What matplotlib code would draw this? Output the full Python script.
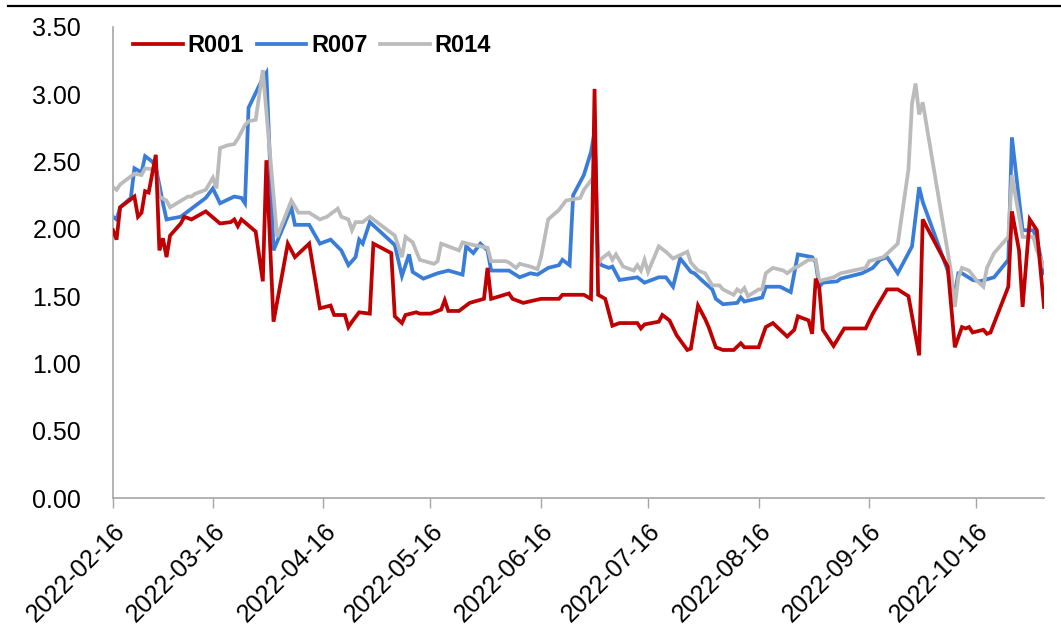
import matplotlib
matplotlib.use("Agg")
import matplotlib.pyplot as plt
import matplotlib.dates as mdates
from matplotlib.lines import Line2D
import pandas as pd

# ---------------- data ----------------
r001_dates = ["2022-02-16","2022-02-17","2022-02-18","2022-02-22","2022-02-23","2022-02-24","2022-02-25",
    "2022-02-26","2022-02-27","2022-02-28","2022-03-01","2022-03-02","2022-03-03","2022-03-04","2022-03-07",
    "2022-03-08","2022-03-10","2022-03-14","2022-03-18","2022-03-21","2022-03-22","2022-03-23","2022-03-24",
    "2022-03-28","2022-03-30","2022-03-31","2022-04-02","2022-04-06","2022-04-08","2022-04-12","2022-04-15",
    "2022-04-18","2022-04-19","2022-04-22","2022-04-23","2022-04-24","2022-04-26","2022-04-29","2022-04-30",
    "2022-05-05","2022-05-06","2022-05-08","2022-05-09","2022-05-12","2022-05-13","2022-05-16","2022-05-19",
    "2022-05-20","2022-05-21","2022-05-24","2022-05-26","2022-05-27","2022-05-31","2022-06-01","2022-06-02",
    "2022-06-07","2022-06-08","2022-06-11","2022-06-16","2022-06-21","2022-06-22","2022-06-28","2022-06-30",
    "2022-07-01","2022-07-02","2022-07-04","2022-07-06","2022-07-08","2022-07-13","2022-07-14","2022-07-15",
    "2022-07-19","2022-07-20","2022-07-22","2022-07-24","2022-07-27","2022-07-28","2022-07-30","2022-08-01",
    "2022-08-02","2022-08-04","2022-08-06","2022-08-09","2022-08-11","2022-08-12","2022-08-16","2022-08-18",
    "2022-08-20","2022-08-24","2022-08-26","2022-08-27","2022-08-30","2022-08-31","2022-09-01","2022-09-02",
    "2022-09-03","2022-09-06","2022-09-09","2022-09-15","2022-09-17","2022-09-21","2022-09-24","2022-09-27",
    "2022-09-30","2022-10-01","2022-10-08","2022-10-10","2022-10-12","2022-10-13","2022-10-14","2022-10-15",
    "2022-10-18","2022-10-19","2022-10-20","2022-10-25","2022-10-26","2022-10-28","2022-10-29","2022-10-31",
    "2022-11-02","2022-11-04"]
r001_values = [1.99,1.92,2.16,2.24,2.09,2.12,2.28,
    2.27,2.41,2.55,1.84,1.93,1.79,1.95,2.04,
    2.09,2.07,2.13,2.04,2.05,2.07,2.02,2.07,
    1.98,1.61,2.51,1.31,1.89,1.79,1.89,1.41,
    1.43,1.36,1.36,1.27,1.31,1.38,1.37,1.89,
    1.82,1.35,1.30,1.36,1.38,1.37,1.37,1.40,
    1.47,1.39,1.39,1.43,1.45,1.48,1.71,1.48,
    1.52,1.48,1.45,1.48,1.48,1.51,1.51,1.48,
    3.04,1.51,1.48,1.28,1.30,1.30,1.26,1.29,
    1.31,1.36,1.32,1.21,1.10,1.11,1.43,1.33,
    1.27,1.12,1.10,1.10,1.15,1.12,1.12,1.27,
    1.30,1.20,1.25,1.35,1.32,1.22,1.63,1.56,
    1.25,1.13,1.26,1.26,1.37,1.55,1.55,1.50,
    1.06,2.07,1.72,1.12,1.27,1.26,1.27,1.23,
    1.25,1.22,1.23,1.57,2.13,1.84,1.42,2.07,
    1.99,1.42]

r007_dates = ["2022-02-16","2022-02-17","2022-02-18","2022-02-21","2022-02-22","2022-02-24","2022-02-25",
    "2022-02-27","2022-02-28","2022-03-02","2022-03-03","2022-03-07","2022-03-09","2022-03-14","2022-03-16",
    "2022-03-18","2022-03-22","2022-03-24","2022-03-25","2022-03-26","2022-03-28","2022-03-30","2022-03-31",
    "2022-04-02","2022-04-07","2022-04-08","2022-04-12","2022-04-15","2022-04-18","2022-04-21","2022-04-23",
    "2022-04-25","2022-04-26","2022-04-27","2022-04-29","2022-05-06","2022-05-08","2022-05-10","2022-05-11",
    "2022-05-14","2022-05-18","2022-05-21","2022-05-25","2022-05-26","2022-05-28","2022-05-30","2022-06-01",
    "2022-06-02","2022-06-07","2022-06-10","2022-06-13","2022-06-15","2022-06-18","2022-06-21","2022-06-22",
    "2022-06-24","2022-06-25","2022-06-28","2022-06-30","2022-07-01","2022-07-02","2022-07-03","2022-07-05",
    "2022-07-06","2022-07-08","2022-07-13","2022-07-15","2022-07-19","2022-07-21","2022-07-23","2022-07-25",
    "2022-07-28","2022-07-29","2022-07-31","2022-08-03","2022-08-04","2022-08-06","2022-08-10","2022-08-11",
    "2022-08-12","2022-08-17","2022-08-18","2022-08-22","2022-08-25","2022-08-27","2022-08-31","2022-09-01",
    "2022-09-02","2022-09-03","2022-09-07","2022-09-08","2022-09-14","2022-09-17","2022-09-19","2022-09-21",
    "2022-09-24","2022-09-28","2022-09-30","2022-10-01","2022-10-08","2022-10-10","2022-10-11","2022-10-12",
    "2022-10-15","2022-10-17","2022-10-21","2022-10-25","2022-10-26","2022-10-29","2022-11-01","2022-11-02",
    "2022-11-04"]
r007_values = [2.09,2.07,2.16,2.23,2.45,2.42,2.54,
    2.50,2.46,2.19,2.07,2.09,2.13,2.23,2.30,
    2.19,2.24,2.23,2.19,2.90,3.01,3.12,3.16,
    1.84,2.16,2.03,2.03,1.89,1.92,1.84,1.73,
    1.79,1.92,1.89,2.05,1.88,1.65,1.81,1.68,
    1.63,1.67,1.69,1.66,1.87,1.82,1.89,1.84,
    1.69,1.69,1.64,1.67,1.66,1.71,1.73,1.77,
    1.73,2.25,2.40,2.57,2.72,1.76,1.73,1.71,
    1.72,1.62,1.64,1.60,1.64,1.64,1.57,1.78,
    1.68,1.67,1.62,1.55,1.48,1.44,1.45,1.49,
    1.46,1.49,1.57,1.57,1.53,1.81,1.79,1.75,
    1.57,1.60,1.61,1.63,1.67,1.71,1.77,1.79,
    1.67,1.87,2.31,2.20,1.69,1.52,1.67,1.67,
    1.62,1.61,1.64,1.77,2.68,1.99,1.99,1.92,
    1.67]

r014_dates = ["2022-02-16","2022-02-17","2022-02-18","2022-02-22","2022-02-24","2022-02-25","2022-02-28",
    "2022-03-01","2022-03-03","2022-03-04","2022-03-09","2022-03-10","2022-03-11","2022-03-14","2022-03-16",
    "2022-03-17","2022-03-18","2022-03-20","2022-03-22","2022-03-23","2022-03-25","2022-03-26","2022-03-28",
    "2022-03-30","2022-04-03","2022-04-07","2022-04-09","2022-04-12","2022-04-15","2022-04-17","2022-04-20",
    "2022-04-21","2022-04-23","2022-04-24","2022-04-25","2022-04-27","2022-04-29","2022-05-06","2022-05-08",
    "2022-05-09","2022-05-11","2022-05-13","2022-05-17","2022-05-18","2022-05-19","2022-05-24","2022-05-25",
    "2022-05-28","2022-05-30","2022-06-01","2022-06-02","2022-06-06","2022-06-07","2022-06-09","2022-06-10",
    "2022-06-13","2022-06-15","2022-06-16","2022-06-18","2022-06-21","2022-06-23","2022-06-27","2022-06-28",
    "2022-06-30","2022-07-01","2022-07-02","2022-07-03","2022-07-05","2022-07-06","2022-07-07","2022-07-09",
    "2022-07-12","2022-07-13","2022-07-14","2022-07-15","2022-07-16","2022-07-19","2022-07-21","2022-07-23",
    "2022-07-27","2022-07-28","2022-07-30","2022-08-01","2022-08-03","2022-08-05","2022-08-06","2022-08-09",
    "2022-08-10","2022-08-11","2022-08-12","2022-08-13","2022-08-16","2022-08-17","2022-08-18","2022-08-20",
    "2022-08-23","2022-08-24","2022-08-26","2022-08-27","2022-08-30","2022-09-01","2022-09-02","2022-09-03",
    "2022-09-06","2022-09-08","2022-09-15","2022-09-16","2022-09-20","2022-09-22","2022-09-24","2022-09-27",
    "2022-09-28","2022-09-29","2022-09-30","2022-10-01","2022-10-09","2022-10-10","2022-10-11","2022-10-12",
    "2022-10-14","2022-10-16","2022-10-18","2022-10-19","2022-10-21","2022-10-25","2022-10-26","2022-10-29",
    "2022-11-01","2022-11-02","2022-11-04"]
r014_values = [2.31,2.29,2.33,2.41,2.40,2.45,2.44,
    2.24,2.21,2.16,2.24,2.24,2.26,2.29,2.38,
    2.30,2.60,2.62,2.63,2.67,2.77,2.80,2.81,
    3.18,1.94,2.21,2.12,2.12,2.07,2.09,2.15,
    2.09,2.07,1.99,2.05,2.05,2.09,1.95,1.79,
    1.94,1.90,1.77,1.74,1.76,1.89,1.84,1.90,
    1.88,1.87,1.86,1.76,1.76,1.75,1.71,1.74,
    1.72,1.70,1.79,2.07,2.14,2.21,2.23,2.29,
    2.36,2.31,1.74,1.78,1.82,1.77,1.81,1.72,
    1.69,1.73,1.69,1.77,1.68,1.87,1.83,1.78,
    1.83,1.75,1.69,1.67,1.58,1.58,1.55,1.51,
    1.55,1.53,1.56,1.50,1.55,1.55,1.67,1.71,
    1.69,1.67,1.71,1.72,1.77,1.77,1.61,1.62,
    1.64,1.67,1.71,1.76,1.79,1.84,1.89,2.44,
    2.93,3.08,2.85,2.94,1.67,1.42,1.64,1.71,
    1.69,1.62,1.57,1.71,1.82,1.94,2.40,1.94,
    1.94,1.84,1.72]

series_names = ["R001", "R007", "R014"]
tick_dates = ["2022-02-16","2022-03-16","2022-04-16","2022-05-16","2022-06-16",
              "2022-07-16","2022-08-16","2022-09-16","2022-10-16"]
x_start, x_end = "2022-02-16", "2022-11-04"
y_ticks = [0.0, 0.5, 1.0, 1.5, 2.0, 2.5, 3.0, 3.5]

# ---------------- styling ----------------
plt.rcParams['font.family'] = ['Liberation Sans', 'DejaVu Sans']
colors = {"R001": "#C00000", "R007": "#3A7DD8", "R014": "#BBBBBB"}
axis_gray = "#A6A6A6"

fig = plt.figure(figsize=(10.61, 6.38), dpi=100)
ax = fig.add_axes([113/1061, 1 - 498/638, (1044-113)/1061, (498-27)/638])

data = {
    "R001": (pd.to_datetime(r001_dates), r001_values),
    "R007": (pd.to_datetime(r007_dates), r007_values),
    "R014": (pd.to_datetime(r014_dates), r014_values),
}
zorders = {"R001": 4, "R007": 2, "R014": 3}
for name in series_names:
    d, v = data[name]
    ax.plot(d, v, color=colors[name], lw=2.7, label=name, zorder=zorders[name],
            solid_joinstyle='miter')

ax.set_xlim(pd.Timestamp(x_start), pd.Timestamp(x_end))
ax.set_ylim(0, 3.5)
ax.set_yticks(y_ticks)
ax.set_yticklabels([f"{t:.2f}" for t in y_ticks], fontsize=18)
ax.tick_params(axis='y', length=0, pad=23)

ax.set_xticks(pd.to_datetime(tick_dates))
ax.xaxis.set_major_formatter(mdates.DateFormatter("%Y-%m-%d"))
ax.tick_params(axis='x', length=7, width=1, color=axis_gray, pad=8)
for lbl in ax.get_xticklabels():
    lbl.set_rotation(45)
    lbl.set_ha('right')
    lbl.set_va('top')
    lbl.set_rotation_mode('anchor')
    lbl.set_fontsize(18)

for s in ["top", "right"]:
    ax.spines[s].set_visible(False)
for s in ["left", "bottom"]:
    ax.spines[s].set_color(axis_gray)
    ax.spines[s].set_linewidth(1.2)

leg = ax.legend(loc='center left', bbox_to_anchor=(20/931, (498-46)/471), ncol=3, frameon=False,
                prop={'weight': 'bold', 'size': 17}, handlelength=2.1, handletextpad=0.2,
                columnspacing=0.55, borderaxespad=0, borderpad=0)
for h in leg.get_lines():
    h.set_linewidth(2.7)

# top rule line
fig.add_artist(Line2D([8/1061, 1.0], [1 - 6/638, 1 - 6/638], color='black', lw=1.6))

fig.savefig("out.png", dpi=100)
